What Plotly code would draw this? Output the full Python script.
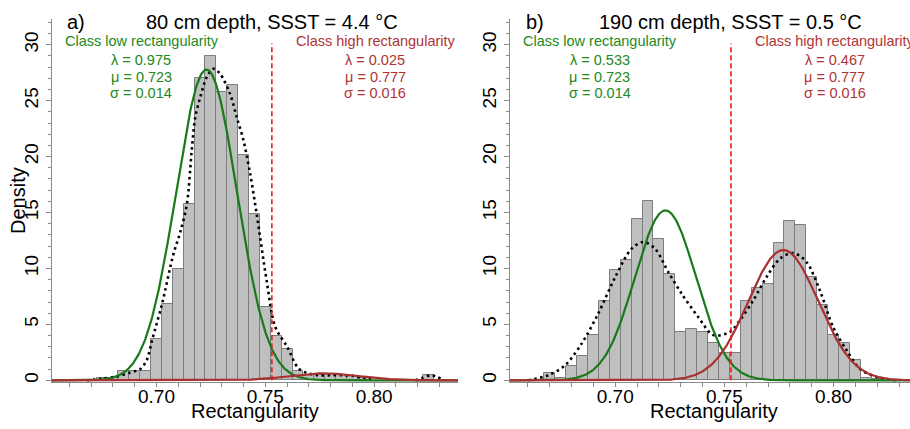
import numpy as np
import plotly.graph_objects as go

# ---------------- data ----------------
bins_a = [0.675, 0.680, 0.685, 0.690, 0.695, 0.700, 0.705, 0.710, 0.715, 0.720,
          0.725, 0.730, 0.735, 0.740, 0.745, 0.750, 0.755, 0.760, 0.765, 0.770,
          0.775, 0.780, 0.785, 0.790, 0.795, 0.825]
dens_a = [0.25, 0.25, 0.8, 0.8, 0.8, 3.66, 6.85, 9.98, 15.8, 27.0,
          29.0, 25.8, 26.4, 20.1, 14.9, 6.55, 4.0, 2.8, 0.8, 0.45,
          0.5, 0.55, 0.45, 0.4, 0.25, 0.5]

bins_b = [0.670, 0.675, 0.680, 0.685, 0.690, 0.695, 0.700, 0.705, 0.710, 0.715,
          0.720, 0.725, 0.730, 0.735, 0.740, 0.745, 0.750, 0.755, 0.760, 0.765,
          0.770, 0.775, 0.780, 0.785, 0.790, 0.795, 0.800, 0.805, 0.810, 0.815, 0.820]
dens_b = [0.65, 0.2, 1.25, 2.14, 4.02, 7.06, 9.89, 10.72, 14.45, 16.0,
          12.6, 9.53, 4.32, 4.62, 4.32, 3.37, 2.45, 2.45, 7.06, 8.28,
          8.64, 12.3, 14.2, 13.85, 9.23, 6.76, 4.02, 3.34, 1.85, 0.24, 0.1]

# kernel density (dotted)
kde_a_x = [0.668, 0.675, 0.682, 0.688, 0.6925, 0.6955, 0.698, 0.7025, 0.7078, 0.711,
           0.714, 0.7162, 0.7178, 0.7201, 0.7231, 0.7262, 0.7292, 0.7338, 0.7369, 0.7399,
           0.743, 0.746, 0.7506, 0.7545, 0.760, 0.7653, 0.770, 0.775, 0.780, 0.785,
           0.790, 0.795, 0.800, None, 0.819, 0.822, 0.826, 0.829, 0.832]
kde_a_y = [0.0, 0.15, 0.35, 0.7, 1.0, 1.8, 3.6, 6.8, 11.3, 13.3,
           15.8, 20.6, 23.5, 25.3, 27.1, 27.85, 27.4, 25.6, 23.5, 21.5,
           18.5, 14.9, 8.9, 4.8, 3.0, 1.05, 0.6, 0.45, 0.45, 0.45,
           0.4, 0.2, 0.05, None, 0.0, 0.2, 0.45, 0.3, 0.0]

kde_b_x = [0.6602, 0.6693, 0.677, 0.6846, 0.6922, 0.700, 0.7075, 0.7128, 0.7182, 0.7243,
           0.7304, 0.738, 0.7449, 0.7525, 0.7571, 0.7632, 0.7693, 0.7754, 0.7815, 0.7876,
           0.7937, 0.7998, 0.806, 0.812, 0.8197, 0.8288]
kde_b_y = [0.0, 0.45, 1.34, 3.28, 5.96, 9.23, 11.77, 12.36, 11.77, 9.68,
           7.75, 5.66, 4.05, 4.32, 5.36, 7.15, 9.23, 10.87, 11.38, 10.57,
           8.04, 4.76, 2.68, 1.04, 0.3, 0.0]

# mixture parameters: [low, high]
lam_a = [0.975, 0.025]
lam_b = [0.533, 0.467]
mu = [0.723, 0.777]
sigma = [0.014, 0.016]
threshold = 0.753

titles = ["80 cm depth, SSST = 4.4 °C", "190 cm depth, SSST = 0.5 °C"]
tags = ["a)", "b)"]

# ---------------- style ----------------
FONT = "Liberation Sans, Arial, sans-serif"
GREEN = "#1a7a1a"
GREEN_T = "#218a21"
RED = "#a83030"
RED_T = "#b03434"
BAR = "#bfbfbf"
BAR_EDGE = "#7d7d7d"
AX = "#8a8a8a"

W, H = 910, 429
ML, MR, MT, MB = 52, 0, 19, 47
pw = W - ML - MR
ph = H - MT - MB

def px2paper_x(px):
    return (px - ML) / pw

def px2paper_y(py):
    return (H - MB - py) / ph

dom_a = [0, px2paper_x(458)]
dom_b = [px2paper_x(510), 1]
xr_a = [0.652, 0.8385]
xr_b = [0.6518, 0.835]
yr = [-0.15, 32.3]

def npdf(x, m, s):
    return np.exp(-0.5 * ((x - m) / s) ** 2) / (s * np.sqrt(2 * np.pi))

fig = go.Figure()

panels = [
    (bins_a, dens_a, kde_a_x, kde_a_y, lam_a, "x", "y", xr_a),
    (bins_b, dens_b, kde_b_x, kde_b_y, lam_b, "x2", "y2", xr_b),
]

for i, (bx, by, kx, ky, lam, xa, ya, xr) in enumerate(panels):
    fig.add_trace(go.Bar(x=bx, y=by, width=0.005, xaxis=xa, yaxis=ya,
                         marker=dict(color=BAR, line=dict(color=BAR_EDGE, width=1)),
                         showlegend=False, hoverinfo="skip"))
    fig.add_trace(go.Scatter(x=kx, y=ky, mode="lines", xaxis=xa, yaxis=ya,
                             line=dict(color="black", width=2.6, dash="2.5px,3.5px",
                                       shape="spline", smoothing=0.9),
                             connectgaps=False, showlegend=False, hoverinfo="skip"))
    xx = np.linspace(xr[0], xr[1], 500)
    fig.add_trace(go.Scatter(x=xx, y=lam[0] * npdf(xx, mu[0], sigma[0]), mode="lines",
                             xaxis=xa, yaxis=ya, line=dict(color=GREEN, width=2.2),
                             showlegend=False, hoverinfo="skip"))
    fig.add_trace(go.Scatter(x=xx, y=lam[1] * npdf(xx, mu[1], sigma[1]), mode="lines",
                             xaxis=xa, yaxis=ya, line=dict(color=RED, width=2.2),
                             showlegend=False, hoverinfo="skip"))
    fig.add_shape(type="line", x0=threshold, x1=threshold, y0=0, y1=30.1,
                  xref=xa, yref=ya, line=dict(color="#f01818", width=1.6, dash="5px,3px"))

    def ann(text, x, y, color="black", size=14.5, xanchor="center"):
        fig.add_annotation(text=text, x=x, y=y, xref=xa, yref=ya, showarrow=False,
                           xanchor=xanchor, yanchor="middle",
                           font=dict(family=FONT, size=size, color=color))
    ann(tags[i], 0.658, 32.0, size=20, xanchor="left")
    ann(titles[i], 0.753, 32.0, size=20)
    ann("Class low rectangularity", 0.6932, 30.3, GREEN_T)
    ann(f"λ = {lam[0]:.3f}", 0.6929, 28.62, GREEN_T)
    ann(f"μ = {mu[0]:.3f}", 0.6929, 27.1, GREEN_T)
    ann(f"σ = {sigma[0]:.3f}", 0.6929, 25.67, GREEN_T)
    ann("Class high rectangularity", 0.8008, 30.3, RED_T)
    ann(f"λ = {lam[1]:.3f}", 0.8005, 28.62, RED_T)
    ann(f"μ = {mu[1]:.3f}", 0.8005, 27.1, RED_T)
    ann(f"σ = {sigma[1]:.3f}", 0.8005, 25.67, RED_T)

# axis titles
for cx in (255, 714):
    fig.add_annotation(text="Rectangularity", xref="paper", yref="paper",
                       x=px2paper_x(cx), y=px2paper_y(411), showarrow=False,
                       xanchor="center", yanchor="middle",
                       font=dict(family=FONT, size=20, color="black"))
fig.add_annotation(text="Density", xref="paper", yref="paper",
                   x=px2paper_x(18), y=px2paper_y(201), showarrow=False,
                   textangle=-90, xanchor="center", yanchor="middle",
                   font=dict(family=FONT, size=20, color="black"))

xaxis_common = dict(showline=True, linecolor=AX, linewidth=1, mirror=False,
                    ticks="outside", ticklen=4, tickcolor=AX, tickwidth=1,
                    dtick=0.05, tick0=0.70, tickformat=".2f",
                    ticklabelstandoff=-7,
                    minor=dict(dtick=0.01, ticks="outside", ticklen=4, tickcolor=AX),
                    showgrid=False, zeroline=False,
                    tickfont=dict(family=FONT, size=19, color="black"))
yaxis_common = dict(showline=True, linecolor=AX, linewidth=1,
                    ticks="outside", ticklen=5, tickcolor=AX, tickwidth=1,
                    dtick=5, tick0=0, range=yr, tickangle=-90,
                    minor=dict(dtick=1, ticks="outside", ticklen=3, tickcolor=AX),
                    showgrid=False, zeroline=False,
                    tickfont=dict(family=FONT, size=19, color="black"))

fig.update_layout(
    width=W, height=H,
    margin=dict(l=ML, r=MR, t=MT, b=MB, pad=0),
    paper_bgcolor="white", plot_bgcolor="white",
    barmode="overlay", bargap=0,
    xaxis=dict(domain=dom_a, range=xr_a, anchor="y", **xaxis_common),
    yaxis=dict(domain=[0, 1], anchor="x", **yaxis_common),
    xaxis2=dict(domain=dom_b, range=xr_b, anchor="y2", **xaxis_common),
    yaxis2=dict(domain=[0, 1], anchor="x2", **yaxis_common),
    font=dict(family=FONT),
)

fig.write_html("out.html", config={"displayModeBar": False},
               post_script="document.body.style.margin='0px';document.body.style.overflow='hidden';")
